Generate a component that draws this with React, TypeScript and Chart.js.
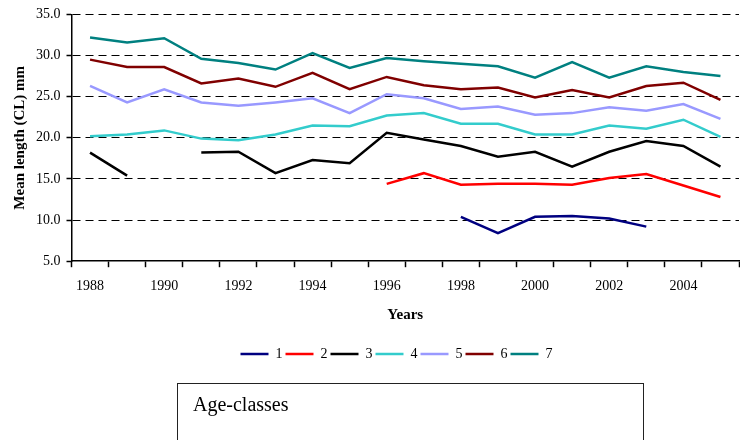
import React, { useEffect, useRef } from "react";
import { Chart, registerables } from "chart.js";

Chart.register(...registerables);

const years = ["1988","1989","1990","1991","1992","1993","1994","1995","1996","1997","1998","1999","2000","2001","2002","2003","2004","2005"];

const age1 = [null,null,null,null,null,null,null,null,null,null,10.4,8.4,10.4,10.5,10.2,9.2,null,null];
const age2 = [null,null,null,null,null,null,null,null,14.4,15.7,14.3,14.4,14.4,14.3,15.1,15.6,14.2,12.8];
const age3 = [18.2,15.4,null,18.2,18.3,15.7,17.3,16.9,20.6,19.8,19.0,17.7,18.3,16.5,18.3,19.6,19.0,16.5];
const age4 = [20.2,20.4,20.9,19.9,19.7,20.4,21.5,21.4,22.7,23.0,21.7,21.7,20.4,20.4,21.5,21.1,22.2,20.1];
const age5 = [26.3,24.3,25.9,24.3,23.9,24.3,24.8,23.0,25.3,24.8,23.5,23.8,22.8,23.0,23.7,23.3,24.1,22.3];
const age6 = [29.5,28.6,28.6,26.6,27.2,26.2,27.9,25.9,27.4,26.4,25.9,26.1,24.9,25.8,24.9,26.3,26.7,24.6];
const age7 = [32.2,31.6,32.1,29.6,29.1,28.3,30.3,28.5,29.7,29.3,29.0,28.7,27.3,29.2,27.3,28.7,28.0,27.5];

const seriesNames = ["1","2","3","4","5","6","7"];
const seriesColors = ["#000080","#FF0000","#000000","#33CCCC","#9999FF","#800000","#008080"];
const seriesData = [age1, age2, age3, age4, age5, age6, age7];

const FONT = "'Liberation Serif', 'Times New Roman', serif";

// shifts the legend block to the right, as in the reference
const legendShift = {
  id: "legendShift",
  afterLayout(chart: any) {
    const lg = chart.legend;
    if (lg) {
      lg.left += 54;
    }
  },
};

export default function App() {
  const ref = useRef<HTMLCanvasElement>(null);

  useEffect(() => {
    if (!ref.current) return;
    const chart = new Chart(ref.current, {
      type: "line",
      data: {
        labels: years,
        datasets: seriesData.map((d, i) => ({
          label: seriesNames[i],
          data: d,
          borderColor: seriesColors[i],
          backgroundColor: seriesColors[i],
          borderWidth: 2.5,
          pointRadius: 0,
          pointStyle: "line",
          spanGaps: false,
          tension: 0,
          fill: false,
        })),
      },
      plugins: [legendShift],
      options: {
        animation: false,
        responsive: false,
        devicePixelRatio: 1,
        layout: { padding: { top: 8, right: 1, left: 0, bottom: 69 } },
        plugins: {
          tooltip: { enabled: false },
          legend: {
            position: "bottom",
            labels: {
              usePointStyle: true,
              pointStyleWidth: 28,
              padding: 3,
              color: "#000",
              font: { family: FONT, size: 14 },
            },
          },
        },
        scales: {
          x: {
            offset: true,
            border: { display: true, color: "#000", width: 1.5 },
            grid: {
              offset: true,
              drawOnChartArea: false,
              drawTicks: true,
              tickLength: 6,
              tickColor: "#000",
              tickWidth: 1.5,
            },
            ticks: {
              autoSkip: false,
              maxRotation: 0,
              padding: 11,
              color: "#000",
              font: { family: FONT, size: 14 },
              callback: (_v: any, idx: number) => (idx % 2 === 0 ? years[idx] : ""),
            },
            title: {
              display: true,
              text: "Years",
              color: "#000",
              font: { family: FONT, size: 15, weight: "bold" },
              padding: { top: 0, bottom: 20 },
            },
          },
          y: {
            min: 5,
            max: 35,
            border: { display: true, color: "#000", width: 1.5, dash: [8, 5] },
            grid: {
              color: (ctx: any) => (ctx.tick && ctx.tick.value === 5 ? "rgba(0,0,0,0)" : "#000"),
              lineWidth: 1,
              drawTicks: true,
              tickLength: 5,
              tickColor: "#000",
              tickWidth: 1.5,
              tickBorderDash: [],
            },
            ticks: {
              stepSize: 5,
              padding: 6,
              color: "#000",
              font: { family: FONT, size: 14 },
              callback: (v: any) => Number(v).toFixed(1),
            },
            title: {
              display: true,
              text: "Mean length (CL) mm",
              color: "#000",
              font: { family: FONT, size: 15, weight: "bold" },
              padding: { top: 11, bottom: 1 },
            },
          },
        },
      } as any,
    });
    return () => chart.destroy();
  }, []);

  return (
    <div style={{ position: "absolute", left: 0, top: 0, width: 740, height: 440, background: "#fff", overflow: "hidden" }}>
      <canvas ref={ref} width={740} height={440} style={{ display: "block" }} />
      <div
        style={{
          position: "absolute",
          left: 177,
          top: 383,
          width: 467,
          height: 80,
          border: "1.5px solid #222",
          fontFamily: FONT,
          fontSize: 20,
          color: "#000",
          boxSizing: "border-box",
          padding: "9px 0 0 15px",
        }}
      >
        Age-classes
      </div>
    </div>
  );
}
